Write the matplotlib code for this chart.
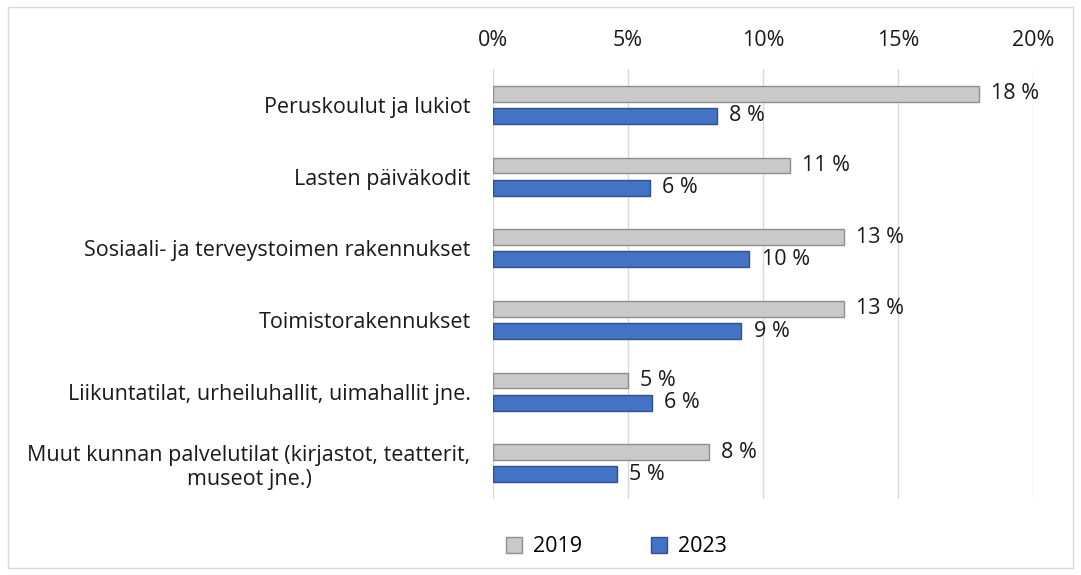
import numpy as np
import matplotlib
matplotlib.use("Agg")
import matplotlib.pyplot as plt
from matplotlib.patches import Rectangle

# categories top to bottom
categories = [
    "Peruskoulut ja lukiot",
    "Lasten päiväkodit",
    "Sosiaali- ja terveystoimen rakennukset",
    "Toimistorakennukset",
    "Liikuntatilat, urheiluhallit, uimahallit jne.",
    "Muut kunnan palvelutilat (kirjastot, teatterit,\nmuseot jne.)",
]
values_2019 = [18.0, 11.0, 13.0, 13.0, 5.0, 8.0]
values_2023 = [8.3, 5.8, 9.5, 9.2, 5.9, 4.6]
labels_2019 = ["18 %", "11 %", "13 %", "13 %", "5 %", "8 %"]
labels_2023 = ["8 %", "6 %", "10 %", "9 %", "6 %", "5 %"]
xticks = [0, 5, 10, 15, 20]

plt.rcParams['font.family'] = ['Open Sans', 'DejaVu Sans']
FS = 15.5
TXT = "#1a1a1a"

fig = plt.figure(figsize=(10.81, 5.75), dpi=100)
ax = fig.add_axes([0.456, 0.132, 0.4996, 0.748])

y = np.arange(len(categories))
h = 0.22
off = 0.155
ax.barh(y - off, values_2019, height=h, color="#C9C9C9", edgecolor="#8E8E8E",
        linewidth=1, label="2019", zorder=3)
ax.barh(y + off, values_2023, height=h, color="#4472C4", edgecolor="#2F528F",
        linewidth=1, label="2023", zorder=3)

for yi, v, t in zip(y, values_2019, labels_2019):
    ax.text(v + 0.45, yi - off, t, va="center", ha="left", fontsize=FS, color=TXT)
for yi, v, t in zip(y, values_2023, labels_2023):
    ax.text(v + 0.45, yi + off, t, va="center", ha="left", fontsize=FS, color=TXT)

ax.set_xlim(0, 20)
ax.set_ylim(len(categories) - 0.5, -0.5)
ax.set_xticks(xticks)
ax.set_xticklabels([f"{t}%" for t in xticks])
ax.xaxis.tick_top()
ax.tick_params(axis="x", length=0, pad=13, labelsize=FS, colors=TXT)
ax.set_yticks(y)
ax.set_yticklabels(categories, fontsize=FS, color=TXT)
ax.tick_params(axis="y", length=0, pad=16)
for lab in ax.get_yticklabels():
    lab.set_multialignment("center")
ax.grid(axis="x", color="#D9D9D9", linewidth=1, zorder=0)
for s in ax.spines.values():
    s.set_visible(False)

fig.legend(loc="center", bbox_to_anchor=(0.57, 0.049), ncol=2, frameon=False,
           fontsize=FS, handlelength=0.75, handleheight=0.75, columnspacing=3.2,
           handletextpad=0.5)

fig.patches.append(Rectangle((0.007, 0.012), 0.986, 0.976, transform=fig.transFigure,
                             fill=False, edgecolor="#D9D9D9", linewidth=1))

fig.savefig("out.png", dpi=100)
